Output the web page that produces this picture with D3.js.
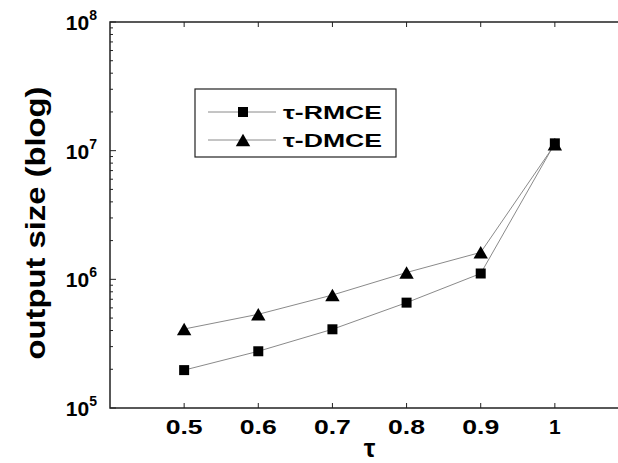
<!DOCTYPE html>
<html>
<head>
<meta charset="utf-8">
<script src="https://cdn.jsdelivr.net/npm/d3@7"></script>
<style>
  body { margin: 0; background: #fff; }
  text { font-family: "Liberation Sans", Arial, sans-serif; font-weight: bold; }
</style>
</head>
<body>
<div class="chart"></div>
<script>
var tauValues = [0.5, 0.6, 0.7, 0.8, 0.9, 1.0];
var rmceValues = [1.97e5, 2.76e5, 4.09e5, 6.59e5, 1.11e6, 1.14e7];
var dmceValues = [4.11e5, 5.35e5, 7.55e5, 1.13e6, 1.62e6, 1.12e7];
var xTickLabels = ["0.5", "0.6", "0.7", "0.8", "0.9", "1"];
var yExponents = [5, 6, 7, 8];
var seriesNames = ["\u03c4-RMCE", "\u03c4-DMCE"];

var svgWidth = 618;
var svgHeight = 463;
var margin = { top: 22, right: -11, bottom: 55, left: 110 };
var width = svgWidth - margin.left - margin.right;
var height = svgHeight - margin.top - margin.bottom;

var svg = d3.select(".chart")
    .append("svg")
    .attr("width", svgWidth)
    .attr("height", svgHeight);

var chartGroup = svg.append("g")
    .attr("transform", `translate(${margin.left}, ${margin.top})`);

var xScale = d3.scaleLinear()
    .domain([0.4, 1.1])
    .range([0, width]);

var yScale = d3.scaleLog()
    .domain([1e5, 1e8])
    .range([height, 0]);

// minor ticks for log axis
var minorTicks = [];
yExponents.slice(0, -1).forEach(function (e) {
    for (var m = 2; m <= 9; m++) minorTicks.push(m * Math.pow(10, e));
});

var axisColor = "#222";

// box
chartGroup.append("rect")
    .attr("width", width).attr("height", height)
    .attr("fill", "none").attr("stroke", axisColor).attr("stroke-width", 1.5);

// x ticks (bottom and top, inward)
var xTicks = chartGroup.append("g");
tauValues.forEach(function (t, i) {
    var x = xScale(t);
    xTicks.append("line").attr("x1", x).attr("x2", x).attr("y1", height).attr("y2", height - 5)
        .attr("stroke", axisColor);
    xTicks.append("line").attr("x1", x).attr("x2", x).attr("y1", 0).attr("y2", 5)
        .attr("stroke", axisColor);
    var lbl = xTicks.append("text")
        .attr("x", x).attr("y", height + 26)
        .attr("text-anchor", "middle")
        .style("font-size", "21px")
        .text(xTickLabels[i]);
    if (xTickLabels[i].length > 1) {
        lbl.attr("textLength", 37).attr("lengthAdjust", "spacingAndGlyphs");
    }
});

// y ticks
var yTicks = chartGroup.append("g");
yExponents.forEach(function (e) {
    var y = yScale(Math.pow(10, e));
    yTicks.append("line").attr("x1", 0).attr("x2", 6).attr("y1", y).attr("y2", y)
        .attr("stroke", axisColor);
    var t = yTicks.append("text")
        .attr("x", -13).attr("y", y + 8)
        .attr("text-anchor", "end")
        .style("font-size", "21px");
    t.append("tspan").text("10");
    t.append("tspan").attr("dy", -10).style("font-size", "14px").text(e);
});
minorTicks.forEach(function (v) {
    var y = yScale(v);
    yTicks.append("line").attr("x1", 0).attr("x2", 3).attr("y1", y).attr("y2", y)
        .attr("stroke", axisColor);
});

// axis labels
chartGroup.append("text")
    .attr("transform", `translate(-74, ${height / 2 + 8}) rotate(-90)`)
    .attr("text-anchor", "middle")
    .attr("dy", "0.35em")
    .attr("textLength", 273)
    .attr("lengthAdjust", "spacingAndGlyphs")
    .style("font-size", "27px")
    .text("output size (blog)");

chartGroup.append("text")
    .attr("x", xScale(0.75)).attr("y", height + 49)
    .attr("text-anchor", "middle")
    .style("font-size", "26px")
    .text("\u03c4");

var line = d3.line()
    .x(function (d) { return xScale(d[0]); })
    .y(function (d) { return yScale(d[1]); });

var rmceData = tauValues.map(function (t, i) { return [t, rmceValues[i]]; });
var dmceData = tauValues.map(function (t, i) { return [t, dmceValues[i]]; });

var lineColor = "#8a8a8a";

chartGroup.append("path").datum(dmceData)
    .attr("d", line).attr("fill", "none").attr("stroke", lineColor).attr("stroke-width", 1);
chartGroup.append("path").datum(rmceData)
    .attr("d", line).attr("fill", "none").attr("stroke", lineColor).attr("stroke-width", 1);

var squareSym = d3.symbol().type(d3.symbolSquare).size(100);
var triangleSym = d3.symbol().type(d3.symbolTriangle).size(90);

chartGroup.selectAll(".sq")
    .data(rmceData)
    .enter()
    .append("path")
    .attr("class", "sq")
    .attr("d", squareSym)
    .attr("transform", d => `translate(${xScale(d[0])}, ${yScale(d[1])})`)
    .attr("fill", "black");

chartGroup.selectAll(".tri")
    .data(dmceData)
    .enter()
    .append("path")
    .attr("class", "tri")
    .attr("d", triangleSym)
    .attr("transform", d => `translate(${xScale(d[0])}, ${yScale(d[1]) + 2})`)
    .attr("fill", "black");

// legend
var legend = svg.append("g").attr("transform", "translate(195, 89)");
legend.append("rect")
    .attr("width", 201).attr("height", 68)
    .attr("fill", "white").attr("stroke", axisColor).attr("stroke-width", 1.2);

seriesNames.forEach(function (name, i) {
    var y = 23 + i * 28;
    legend.append("line")
        .attr("x1", 13).attr("x2", 81).attr("y1", y).attr("y2", y)
        .attr("stroke", lineColor);
    legend.append("path")
        .attr("d", i === 0 ? squareSym : triangleSym)
        .attr("transform", `translate(48, ${i === 0 ? y : y + 2})`)
        .attr("fill", "black");
    legend.append("text")
        .attr("x", 88).attr("y", y + 7)
        .attr("textLength", 99)
        .attr("lengthAdjust", "spacingAndGlyphs")
        .style("font-size", "19px")
        .text(name);
});
</script>
</body>
</html>
